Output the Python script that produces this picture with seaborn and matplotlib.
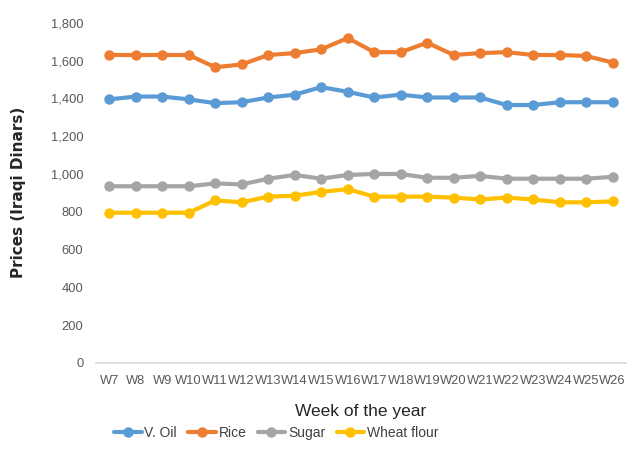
import numpy as np
import pandas as pd
import matplotlib
matplotlib.use("Agg")
import matplotlib.pyplot as plt
import seaborn as sns

weeks = [f"W{i}" for i in range(7, 27)]
v_oil = [1395, 1410, 1410, 1395, 1375, 1380, 1405, 1420, 1460, 1435,
         1405, 1420, 1405, 1405, 1405, 1365, 1365, 1380, 1380, 1380]
rice = [1630, 1630, 1630, 1630, 1565, 1580, 1630, 1640, 1660, 1720,
        1645, 1645, 1695, 1630, 1640, 1645, 1630, 1630, 1625, 1590]
sugar = [935, 935, 935, 935, 950, 945, 975, 995, 975, 995,
         1000, 1000, 980, 980, 990, 975, 975, 975, 975, 985]
wheat_flour = [795, 795, 795, 795, 860, 850, 880, 885, 905, 920,
               880, 880, 880, 875, 865, 875, 865, 850, 850, 855]

series_names = ["V. Oil", "Rice", "Sugar", "Wheat flour"]
colors = ["#5B9BD5", "#ED7D31", "#A5A5A5", "#FFC000"]

df = pd.DataFrame({"week": weeks, "V. Oil": v_oil, "Rice": rice,
                   "Sugar": sugar, "Wheat flour": wheat_flour})
long_df = df.melt(id_vars="week", var_name="item", value_name="price")

sns.set_theme(style="white")
plt.rcParams["font.family"] = ["Liberation Sans", "DejaVu Sans"]

fig, ax = plt.subplots(figsize=(6.4, 4.67), dpi=100)
fig.subplots_adjust(left=0.15, right=0.978, top=0.951, bottom=0.223)

sns.lineplot(data=long_df, x="week", y="price", hue="item",
             hue_order=series_names, palette=colors, marker="o",
             markersize=7.5, markeredgewidth=0, linewidth=3, ax=ax)

ax.set_xlim(-0.5, len(weeks) - 0.5)
ax.set_ylim(0, 1800)
ax.set_yticks(np.arange(0, 1801, 200))
ax.set_yticklabels([f"{v:,}" for v in range(0, 1801, 200)])
for s in ["top", "right", "left"]:
    ax.spines[s].set_visible(False)
ax.spines["bottom"].set_color("#D9D9D9")
ax.spines["bottom"].set_linewidth(1.2)
ax.tick_params(axis="both", length=0, labelsize=9.3, colors="#595959", pad=9)

ax.set_ylabel("Prices (Iraqi Dinars)", fontsize=11, fontweight="bold",
              color="#262626", family=["DejaVu Sans"], labelpad=18)
ax.set_xlabel("Week of the year", fontsize=12.5, color="#262626", labelpad=12)

ax.legend(loc="center", bbox_to_anchor=(0.34, -0.205), ncol=4,
          frameon=False, fontsize=10, handlelength=2.0, columnspacing=0.8,
          handletextpad=0.2, labelcolor="#404040")

plt.savefig("out.png", dpi=100)
